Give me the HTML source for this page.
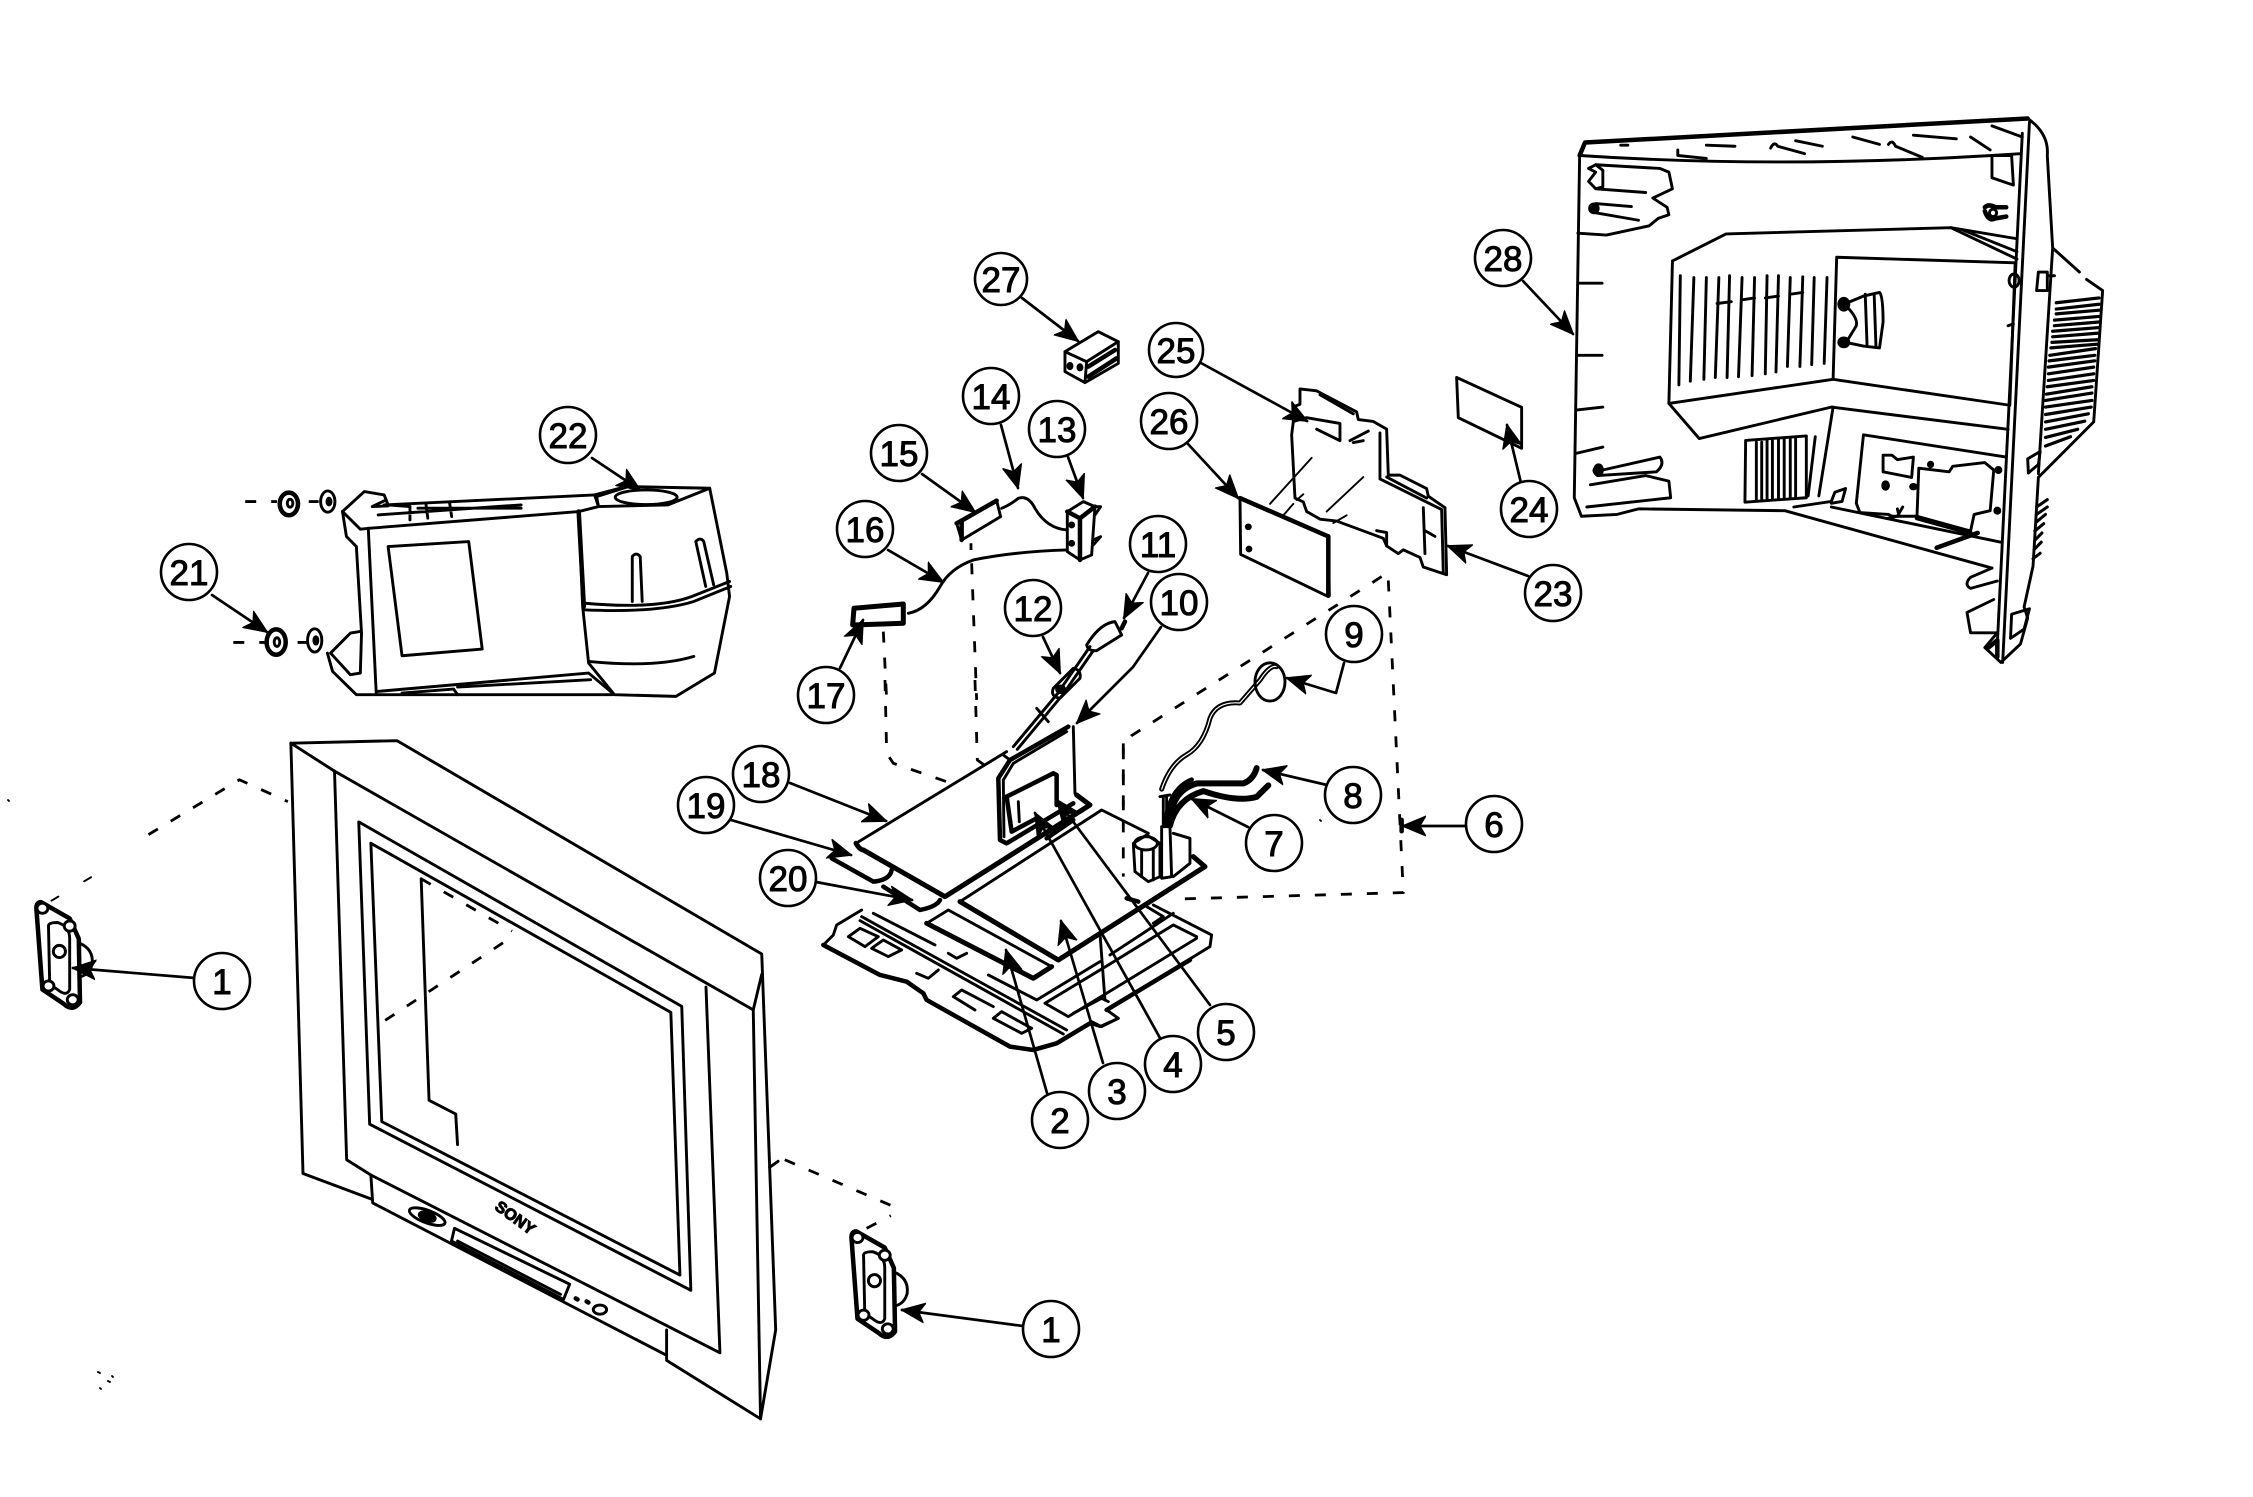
<!DOCTYPE html>
<html><head><meta charset="utf-8"><title>Exploded parts diagram</title>
<style>
html,body{margin:0;padding:0;background:#fff}
svg{display:block}
path,line,ellipse,circle{fill:none;stroke:#000;stroke-width:2.9;vector-effect:non-scaling-stroke;stroke-linejoin:round;stroke-linecap:round}
.t{stroke-width:4.5}.n{stroke-width:1.9}
.d{stroke-dasharray:11 15;stroke-linecap:butt;stroke-width:2.8}
.f{fill:#000}
.w{fill:#fff}
.l{stroke-width:2.7}
.c{fill:#fff;stroke-width:2.6}
text{font-family:"Liberation Sans",sans-serif;font-size:35px;text-anchor:middle;fill:#000;stroke:#000;stroke-width:1}
</style></head><body>
<svg xmlns="http://www.w3.org/2000/svg" width="2253" height="1497" viewBox="0 0 2253 1497">
<defs>
<marker id="a" markerUnits="userSpaceOnUse" markerWidth="28" markerHeight="24" refX="23" refY="11" orient="auto"><path d="M0,1 L24,11 L0,21 L6,11 Z" style="fill:#000;stroke:#000;stroke-width:1"/></marker>
</defs>
<rect width="2253" height="1497" fill="#fff"/>

<!-- TV front and speakers -->
<g transform="translate(0,700) scale(.606,.508)">
<path d="M480,85 L655,80 L1257,500 L1280,1240 L1255,1415 L1100,1300 L1100,1240"/>
<path d="M480,85 L500,932 L612,982"/>
<path d="M480,85 L552,140 L1243,610 L1255,1415"/>
<path d="M1257,540 L1243,610"/>
<path d="M552,140 L572,905 L612,935 L1188,1285 L1165,565"/>
<path d="M612,935 L615,990 L1100,1290"/>
<path d="M592,240 L1125,603 L1140,1162 L610,835 Z"/>
<path d="M612,282 L1107,615 L1122,1132 L630,830 Z"/>
<path d="M695,352 L708,788 L752,815 L755,875"/>
<path class="d" d="M695,352 L845,455"/>
<path class="d" d="M830,478 L630,635"/>
<path d="M750,1040 L940,1150 L930,1180 L745,1065 Z"/>
<path d="M755,1065 L925,1170"/>
<ellipse cx="705" cy="1017" rx="32" ry="12" transform="rotate(25 705 1017)"/>
<ellipse cx="705" cy="1017" rx="14" ry="8" class="f" transform="rotate(25 705 1017)"/>
<ellipse cx="990" cy="1200" rx="11" ry="9"/>
<path d="M950,1178 L953,1180 M968,1184 L971,1186" class="t"/>
<path d="M1270,920 L1284,908"/>
<path class="d" d="M245,265 L395,157 L475,200"/>
<path class="n" style="stroke-dasharray:8 30" d="M85,395 L170,335"/>
<path class="d" d="M1295,905 L1490,1005"/>
<path class="d" d="M1430,1040 L1470,1015"/>
<g id="spk">
<path d="M68,398 L115,430 L130,470 L132,595 Q120,615 105,598 L70,570 L60,410 Q60,398 68,398 Z" class="t"/>
<path d="M80,445 Q80,438 95,438 Q115,445 115,470 L115,570 Q110,585 95,570 L82,560 Z"/>
<ellipse cx="70" cy="410" rx="9" ry="10" class="w"/>
<ellipse cx="115" cy="445" rx="9" ry="10" class="w"/>
<ellipse cx="80" cy="563" rx="9" ry="10" class="w"/>
<ellipse cx="120" cy="590" rx="9" ry="10" class="w"/>
<ellipse cx="98" cy="495" rx="10" ry="12"/>
<path d="M130,478 Q155,490 152,520 Q148,540 132,545"/>
</g>
<use href="#spk" transform="translate(1345,648)"/>
</g>
<text x="515" y="1223" transform="rotate(36 515 1218)" style="font-size:16px;font-weight:bold">SONY</text>

<!-- Part 21/22 unit -->
<g transform="translate(140,400) scale(.397,.333)">
<path d="M510,335 L555,388 L580,385 L1105,335 L1155,320 L1145,285 L1225,260 L1435,265 L1478,520 L1485,590 L1447,820 L1350,890 L1195,885 L1130,790 L1115,620 L1105,335"/>
<path d="M1105,335 L1118,620" class="t"/>
<path d="M510,335 L565,275 L615,285 L625,315 L680,320"/>
<path d="M585,320 L620,300 L625,318 Z"/>
<path d="M615,315 L1145,285"/>
<path d="M600,345 L960,315 M720,310 L725,355 M780,310 L785,350 M680,320 L680,360 M700,325 L960,325"/>
<path d="M510,335 L520,410 L545,440 L558,700 L555,820 L530,825 L480,760 L530,700 L555,695"/>
<path d="M472,760 L485,815 L545,885 L1190,885"/>
<path d="M575,385 L595,880"/>
<path d="M1225,262 L1150,290 L1155,320 L1330,315 L1435,265"/>
<path d="M625,440 L828,425 L862,748 L660,768 Z"/>
<ellipse cx="1275" cy="292" rx="78" ry="22"/>
<path d="M1240,605 L1240,470 Q1250,455 1260,470 L1265,605"/>
<path d="M1400,425 Q1412,410 1420,425 L1445,555 M1400,425 L1425,560"/>
<path d="M1118,610 Q1300,630 1390,590 L1485,545"/>
<path d="M1118,630 Q1300,640 1395,605 L1488,560"/>
<path d="M1130,785 Q1300,805 1395,770"/>
<path d="M600,875 L1130,820 L1190,880 M800,862 L1135,840 M660,880 L790,868 L800,885"/>
<ellipse cx="375" cy="312" rx="23" ry="34" class="t"/>
<ellipse cx="378" cy="310" rx="7" ry="12"/>
<ellipse cx="473" cy="305" rx="18" ry="32"/>
<ellipse cx="476" cy="305" rx="5" ry="10" class="f"/>
<ellipse cx="343" cy="727" rx="24" ry="38" class="t"/>
<ellipse cx="345" cy="727" rx="7" ry="13"/>
<ellipse cx="440" cy="722" rx="18" ry="35"/>
<ellipse cx="443" cy="722" rx="5" ry="11" class="f"/>
<path class="d" d="M265,305 L345,305 M425,305 L450,305 M235,728 L315,728 M397,728 L420,728"/>
</g>

<!-- top centre parts -->
<g transform="translate(780,230) scale(.3333)">
<path d="M855,365 L955,305 L1015,335 L920,395 Z"/>
<path d="M855,365 L855,425 L915,458 L920,395 M1015,335 L1015,400 L915,458"/>
<path d="M925,410 L1005,360 M925,440 L1010,385" class="t"/>
<ellipse cx="870" cy="408" rx="6" ry="8" class="f"/><ellipse cx="900" cy="412" rx="6" ry="8" class="f"/>
<path d="M530,880 L650,812 L662,860 L545,930 Z" />
<path d="M530,880 L545,872 L650,812 M545,875 L545,930" class="t"/>
<path d="M665,835 Q690,825 715,805 Q745,795 765,835 Q800,895 860,900"/>
<path d="M862,845 L910,815 L945,830 L935,975 L900,990 L862,965 Z"/>
<path d="M862,845 L900,865 L900,990 M900,865 L945,830" class="t"/>
<path d="M940,830 L962,830 L945,855 M940,930 L962,920 L940,945"/>
<ellipse cx="875" cy="885" rx="6" ry="6" class="f"/><ellipse cx="875" cy="940" rx="6" ry="6" class="f"/>
<path d="M860,960 Q700,965 580,990 Q510,1015 480,1070 Q440,1140 385,1150"/>
<path d="M222,1135 L370,1122 L370,1180 L218,1185 Z" class="t" style="stroke-width:5"/>
<path d="M840,1380 L930,1250 M850,1392 L940,1262" />
<path d="M820,1375 L880,1315 Q905,1320 900,1345 L840,1405 Q810,1400 820,1375 Z"/>
<ellipse cx="842" cy="1378" rx="12" ry="10" class="f"/>
<path d="M920,1245 Q960,1180 1005,1175 L1025,1215 L950,1262 Q925,1265 920,1245 Z"/>
<path d="M1025,1195 L1035,1175" class="t"/>
<path class="d" d="M573,940 L573,960 M575,1000 L590,1410 M310,1205 L320,1410"/>
</g>

<!-- boards, plate -->
<g transform="translate(780,680) scale(.3333)">
<path class="d" d="M315,0 L320,220 L340,250 L500,305"/>
<path class="d" d="M585,0 L592,240 L640,275"/>
<path d="M228,490 L680,215"/>
<path d="M228,490 Q240,510 250,510 L495,650 L930,375 L890,345" class="t" style="stroke-width:5"/>
<path d="M880,140 L885,340"/>
<path d="M865,140 L690,240 L655,295 L660,480 L680,490 L880,370" class="t"/>
<path d="M860,155 L700,250 L670,300 L672,470"/>
<path d="M680,350 L820,280 L830,285 L830,375" class="t"/>
<path d="M680,350 L695,455 L770,415" class="t"/>
<path d="M715,365 L718,425" />
<path d="M670,225 L690,240 M770,85 L805,125" />
<path d="M700,200 L850,20 M712,208 L860,30" />
<path d="M540,665 L965,390 L1105,460" />
<path d="M540,665 L835,840 L1275,560 L1240,530" class="t" style="stroke-width:5"/>
<path d="M880,420 L800,475" class="t"/>
<path d="M440,730 L505,690 L815,860 L760,895 Z" />
<path d="M440,730 L760,895 L815,860" class="t" style="stroke-width:5"/>
<path d="M155,535 L280,605 Q330,600 335,570" class="t"/>
<path d="M310,620 L420,690 Q470,680 480,660" class="t"/>
<path d="M245,690 L170,735 L160,765 L130,795 L300,885 L380,905 L430,940 L440,960 L690,1100 L760,1110 L830,1090 L930,1030 L960,1040 L1015,1015 L980,990 L1290,800 L1295,765 L1120,675"/>
<path d="M130,795 L300,885 L380,905 L430,940 L440,960 L690,1100 L760,1110 L830,1090 L930,1030" class="t"/>
<path d="M980,990 L1230,840" class="t"/>
<path d="M245,710 L860,1050 M240,722 L850,1062"/>
<path d="M280,700 L465,795 M625,885 L770,960 L960,845 M990,825 L1180,700"/>
<path d="M205,770 L240,745 L295,770 L255,800 Z M275,805 L310,780 L365,810 L325,830 Z"/>
<path d="M1250,770 L1180,735 L985,855 M795,970 L865,1010 L1250,775 M795,970 L985,855"/>
<path d="M1100,680 L1150,710 L1120,730"/>
<path d="M520,950 L545,930 L640,980 M520,950 L585,990 M640,1015 L665,995 L755,1045 L725,1060 Z"/>
<path d="M505,820 L530,835 L560,820 M410,880 L445,895 L475,870"/>
<path d="M880,1000 L965,955 L985,965 M935,1025 L965,1040 L1015,1015" />
<path d="M960,760 L975,960" />
<path d="M1060,490 L1100,465 L1140,490 L1140,590 L1105,605 L1065,575 Z"/>
<ellipse cx="1098" cy="490" rx="34" ry="20" />
<path d="M1085,510 L1085,590 M1120,510 L1120,600"/>
<path d="M1180,460 L1230,475 L1230,550 L1180,590"/>
<path d="M1145,440 L1170,440 L1175,590 L1145,595 Z" class="w"/>
<path d="M1140,350 L1170,345 M1150,350 L1150,435 M1160,350 L1160,435"/>
<path class="d" d="M1030,190 L1030,590"/>
<path d="M1040,655 L1075,665" class="t"/>
</g>

<!-- right wires, board 23/25/26, card 24 -->
<g transform="translate(1120,320) scale(.3333,.383)">
<path d="M125,1225 Q150,1160 200,1135 Q250,1110 270,1040 Q290,995 360,1000 L420,940 Q450,900 470,905" style="stroke-width:5"/>
<path d="M125,1225 Q150,1160 200,1135 Q250,1110 270,1040 Q290,995 360,1000 L420,940 Q450,900 470,905" style="stroke:#fff;stroke-width:1.2"/>
<ellipse cx="450" cy="945" rx="45" ry="50"/>
<path d="M150,1320 Q150,1230 230,1210 Q320,1210 370,1210 Q400,1200 410,1170" style="stroke-width:6"/>
<path d="M150,1320 Q170,1250 250,1230 Q350,1260 410,1245 L445,1215" style="stroke-width:6"/>
<path d="M135,1320 Q145,1225 215,1200" class="t"/>
<path class="d" d="M785,670 L35,1085 L10,1110 L10,1280"/>
<path class="d" d="M805,680 L850,1495 L165,1512"/>
<path d="M845,1305 L845,1335" class="t"/>
<path d="M520,265 L525,225 L540,220 L540,180 L590,185 L710,240 L715,260 L760,265 L800,285 L805,405 L840,405 L920,440 L925,460 L975,490 L980,665 L910,645 L900,620 L850,600 L835,610 L800,590 L790,570 L650,525 L600,520 L560,500 L550,475 L525,465 L515,300 Z"/>
<path d="M780,295 L780,415 L965,495 L970,660"/>
<path d="M520,265 L560,255 L660,270 L660,315 L590,285"/>
<path d="M600,195 L700,245 M800,410 L920,465"/>
<path d="M690,315 L745,290 M700,320 L730,315 M910,490 L915,610 M915,550 L945,565 M770,550 L800,555 L800,590"/>
<path class="n" d="M450,480 L575,360 M620,500 L730,410 M490,510 L520,480 M530,470 L550,455 M640,530 L680,510"/>
<path d="M360,465 L625,565 L628,720 L620,720 L362,612 Z" class="w"/>
<path d="M360,465 L625,565 M625,565 L625,720" class="t"/>
<ellipse cx="385" cy="540" rx="6" ry="5" class="f"/><ellipse cx="387" cy="598" rx="6" ry="5" class="f"/>
<path d="M1010,150 L1205,228 L1205,335 L1015,255 Z"/>
</g>

<!-- rear cabinet 28 -->
<g transform="translate(1560,100) scale(.357,.37)">
<path d="M55,150 L70,115 L1310,50" class="t"/>
<path d="M55,150 L40,1075 L60,1125 L160,1120 L220,1105 L630,1110 L1210,1265"/>
<path d="M55,150 Q600,185 1210,150 L1290,145"/>
<path d="M1295,90 L1225,1470 M1315,60 L1240,1520"/>
<path d="M1310,50 Q1370,90 1365,150 L1380,400 L1455,465 M1380,400 L1340,1010"/>
<path d="M1475,485 L1520,515 L1495,870 L1340,1020 L1325,1260 L1300,1370 L1310,1400 L1290,1470 L1235,1520 L1190,1480 L1225,1440 L1150,1440 L1140,1385 L1215,1350"/>
<path d="M1225,1300 L1150,1320 Q1130,1310 1150,1290 L1210,1265"/>
<path d="M1210,70 L1295,100 M820,100 L895,120 M990,95 L1110,105 M660,110 L735,125"/>
<path d="M590,130 Q600,110 610,125 L685,145 M920,120 Q930,105 940,125 L1015,155 M1150,100 L1205,135 M330,135 L330,150 L410,158 M170,122 L190,122 M410,122 L490,125"/>
<path d="M1210,150 L1265,150 L1270,230 L1210,210 Z"/>
<path d="M50,360 L130,365 L250,340 L275,320 L305,310 L300,290 L260,265 L315,240 L305,195 L280,185 L100,175"/>
<path d="M100,175 L80,185 L100,195 L80,220 L100,240 L240,250 M100,175 L120,190 L120,235 L100,240"/>
<path d="M200,288 L100,280 Q75,295 100,305 L220,325" />
<ellipse cx="95" cy="293" rx="12" ry="12" class="f"/>
<path d="M50,495 L118,495 M50,690 L118,690 M45,838 L120,830 M45,955 L120,938"/>
<path d="M120,1000 L280,965 Q295,985 270,1005 L105,1015 Q85,1000 105,990 Z"/>
<ellipse cx="108" cy="1000" rx="11" ry="14" class="f"/>
<path d="M85,1040 L240,1015 L305,1030 L310,1075 L75,1100"/>
<path d="M315,435 L465,362 L1095,345 L1280,430"/>
<path d="M1095,345 L1280,375 M1130,352 L1280,410"/>
<path d="M315,435 L305,820 L765,755 L1260,825 L1275,440 L775,425 L765,755"/>
<path d="M305,820 L390,915 L760,830 L1255,890"/>
<path d="M765,830 L725,1070"/>
<path d="M337,475 L333,770 M375,480 L365,760 M410,480 L403,755 M445,480 L435,750 M475,475 L468,750 M510,480 L500,748 M545,480 L538,745 M580,475 L575,740 M612,475 L605,735 M645,480 L637,720 M680,478 L672,720 M712,480 L705,715 M748,480 L740,712"/>
<path d="M440,550 L480,545 M510,540 L545,535 M575,535 L612,530 M645,525 L680,520"/>
<path d="M800,550 L850,530 L895,520 Q905,530 905,600 L895,670 L850,665 L800,655" />
<path d="M855,525 L860,660 M880,525 L885,665" />
<path d="M805,560 Q835,590 830,610 L805,650"/>
<ellipse cx="795" cy="552" rx="14" ry="16" class="f"/><ellipse cx="795" cy="655" rx="14" ry="12" class="f"/>
<path d="M520,920 L690,908 L690,1075 L518,1087 Z"/>
<path d="M550,925 L550,1080 M565,925 L565,1080 M580,920 L580,1078 M595,920 L595,1078 M612,918 L612,1076 M628,915 L628,1076 M645,915 L645,1075 M660,915 L660,1075"/>
<path d="M715,910 L695,1070"/>
<path d="M850,905 L1250,965 M850,905 L830,1090 L840,1115 L920,1120 L930,1125 L1000,1125"/>
<path d="M905,960 L930,960 L945,972 L990,965 L985,1020 L905,1005 Z"/>
<path d="M1005,995 L1090,1005 L1100,990 L1190,980 L1215,1000 L1205,1110 L1160,1120 L1150,1165 L1000,1125 Z"/>
<ellipse cx="1038" cy="985" rx="6" ry="6" class="f"/><ellipse cx="912" cy="1042" rx="8" ry="10" class="f"/><ellipse cx="990" cy="1045" rx="8" ry="6" class="f"/><ellipse cx="1228" cy="1000" rx="7" ry="7" class="f"/><ellipse cx="1225" cy="1110" rx="7" ry="7" class="f"/>
<path d="M760,1100 L1235,1195"/>
<path d="M655,1100 L760,1085 L770,1060 L800,1050 L790,1085 L760,1090"/>
<path d="M1055,1210 L1170,1170" class="t"/>
<path d="M1000,1130 L1150,1170" class="t"/>
<path d="M920,1130 L945,1125 L960,1100 M945,1105 L950,1125"/>
<path d="M1190,290 Q1200,280 1220,290 L1250,290 M1190,300 Q1200,330 1220,320 L1250,315" class="t"/>
<ellipse cx="1213" cy="305" rx="10" ry="10"/>
<path d="M1340,465 L1365,465 L1365,515 L1335,515 Z M1365,475 L1385,475"/>
<ellipse cx="1272" cy="488" rx="14" ry="18"/>
<path d="M1255,610 L1270,605"/>
<path d="M1310,970 L1345,950 L1340,985 L1312,1008 Z"/>
<path d="M1265,1390 L1315,1375 L1300,1430 L1262,1455 Z"/>
<path d="M1200,1480 L1225,1460 L1225,1505" class="t"/>
<path d="M1390,548 L1510,535 M1390,565 L1510,552 M1390,578 L1510,568 M1385,595 L1510,585 M1385,610 L1510,600 M1380,625 L1510,615 M1380,640 L1508,630 M1378,655 L1505,648 M1375,670 L1505,660 M1372,690 L1500,672 M1370,705 L1498,690 M1368,722 L1498,705 M1368,740 L1495,722 M1368,758 L1495,740 M1365,775 L1495,758 M1362,795 L1490,775 M1360,812 L1490,792 M1360,830 L1490,812 M1360,850 L1488,830 M1360,870 L1480,848 M1360,890 L1470,868 M1360,912 L1450,890 M1360,935 L1430,910" style="stroke-width:3.2"/>
<path d="M1335,1100 L1365,1080 M1335,1120 L1365,1100 M1335,1140 L1360,1120 M1330,1165 L1355,1145 M1330,1190 L1350,1170 M1328,1215 L1348,1195 M1325,1240 L1345,1225" class="t" style="stroke-width:3"/>
</g>

<!-- leaders -->
<g>
<path class="l" marker-end="url(#a)" d="M195,978 L73,968"/>
<path class="l" marker-end="url(#a)" d="M1023,1326 L902,1310"/>
<path class="l" marker-end="url(#a)" d="M1047,1093 L1006,950"/>
<path class="l" marker-end="url(#a)" d="M1103,1063 L1061,921"/>
<path class="l" marker-end="url(#a)" d="M1160,1038 L1035,813"/>
<path class="l" marker-end="url(#a)" d="M1210,1005 L1057,800"/>
<path class="l" marker-end="url(#a)" d="M1465,826 L1403,826"/>
<path class="l" marker-end="url(#a)" d="M1248,827 L1192,799"/>
<path class="l" marker-end="url(#a)" d="M1327,785 L1263,770"/>
<path class="l" marker-end="url(#a)" d="M1344,663 L1336,693 L1287,678"/>
<path class="l" marker-end="url(#a)" d="M1161,627 L1133,667 L1077,723"/>
<path class="l" marker-end="url(#a)" d="M1148,573 L1124,618"/>
<path class="l" marker-end="url(#a)" d="M1043,637 L1060,673"/>
<path class="l" marker-end="url(#a)" d="M1068,457 L1083,498"/>
<path class="l" marker-end="url(#a)" d="M1001,425 L1018,488"/>
<path class="l" marker-end="url(#a)" d="M922,474 L975,512"/>
<path class="l" marker-end="url(#a)" d="M888,550 L943,582"/>
<path class="l" marker-end="url(#a)" d="M840,668 L863,620"/>
<path class="l" marker-end="url(#a)" d="M790,783 L886,821"/>
<path class="l" marker-end="url(#a)" d="M731,820 L851,855"/>
<path class="l" marker-end="url(#a)" d="M816,882 L912,900"/>
<path class="l" marker-end="url(#a)" d="M212,595 L267,632"/>
<path class="l" marker-end="url(#a)" d="M592,458 L640,490"/>
<path class="l" marker-end="url(#a)" d="M1528,576 L1448,546"/>
<path class="l" marker-end="url(#a)" d="M1521,483 L1507,425"/>
<path class="l" marker-end="url(#a)" d="M1201,363 L1307,421"/>
<path class="l" marker-end="url(#a)" d="M1188,444 L1238,498"/>
<path class="l" marker-end="url(#a)" d="M1022,298 L1078,341"/>
<path class="l" marker-end="url(#a)" d="M1523,281 L1573,334"/>
</g>

<!-- balloons -->
<g>
<circle class="c" cx="222" cy="981" r="28"/><text x="222" y="994">1</text>
<circle class="c" cx="1051" cy="1329" r="28"/><text x="1051" y="1342">1</text>
<circle class="c" cx="1060" cy="1120" r="28"/><text x="1060" y="1133">2</text>
<circle class="c" cx="1117" cy="1091" r="28"/><text x="1117" y="1104">3</text>
<circle class="c" cx="1173" cy="1064" r="28"/><text x="1173" y="1077">4</text>
<circle class="c" cx="1226" cy="1032" r="28"/><text x="1226" y="1045">5</text>
<circle class="c" cx="1494" cy="824" r="28"/><text x="1494" y="837">6</text>
<circle class="c" cx="1274" cy="843" r="28"/><text x="1274" y="856">7</text>
<circle class="c" cx="1353" cy="795" r="28"/><text x="1353" y="808">8</text>
<circle class="c" cx="1354" cy="634" r="28"/><text x="1354" y="647">9</text>
<circle class="c" cx="1179" cy="602" r="28"/><text x="1179" y="615">10</text>
<circle class="c" cx="1158" cy="544" r="28"/><text x="1158" y="557">11</text>
<circle class="c" cx="1033" cy="608" r="28"/><text x="1033" y="621">12</text>
<circle class="c" cx="1057" cy="429" r="28"/><text x="1057" y="442">13</text>
<circle class="c" cx="991" cy="396" r="28"/><text x="991" y="409">14</text>
<circle class="c" cx="899" cy="453" r="28"/><text x="899" y="466">15</text>
<circle class="c" cx="865" cy="529" r="28"/><text x="865" y="542">16</text>
<circle class="c" cx="826" cy="695" r="28"/><text x="826" y="708">17</text>
<circle class="c" cx="761" cy="774" r="28"/><text x="761" y="787">18</text>
<circle class="c" cx="706" cy="805" r="28"/><text x="706" y="818">19</text>
<circle class="c" cx="788" cy="878" r="28"/><text x="788" y="891">20</text>
<circle class="c" cx="189" cy="572" r="28"/><text x="189" y="585">21</text>
<circle class="c" cx="568" cy="435" r="28"/><text x="568" y="448">22</text>
<circle class="c" cx="1553" cy="593" r="28"/><text x="1553" y="606">23</text>
<circle class="c" cx="1529" cy="509" r="28"/><text x="1529" y="522">24</text>
<circle class="c" cx="1176" cy="350" r="27"/><text x="1176" y="363">25</text>
<circle class="c" cx="1169" cy="421" r="28"/><text x="1169" y="434">26</text>
<circle class="c" cx="1001" cy="279" r="26"/><text x="1001" y="292">27</text>
<circle class="c" cx="1503" cy="258" r="28"/><text x="1503" y="271">28</text>
</g>
<path d="M8,800 L9,801 M98,1372 L100,1373 M108,1381 L110,1382 M112,1376 L113,1377 M100,1388 L101,1389 M1320,820 L1321,821" class="n"/>
</svg>
</body></html>
